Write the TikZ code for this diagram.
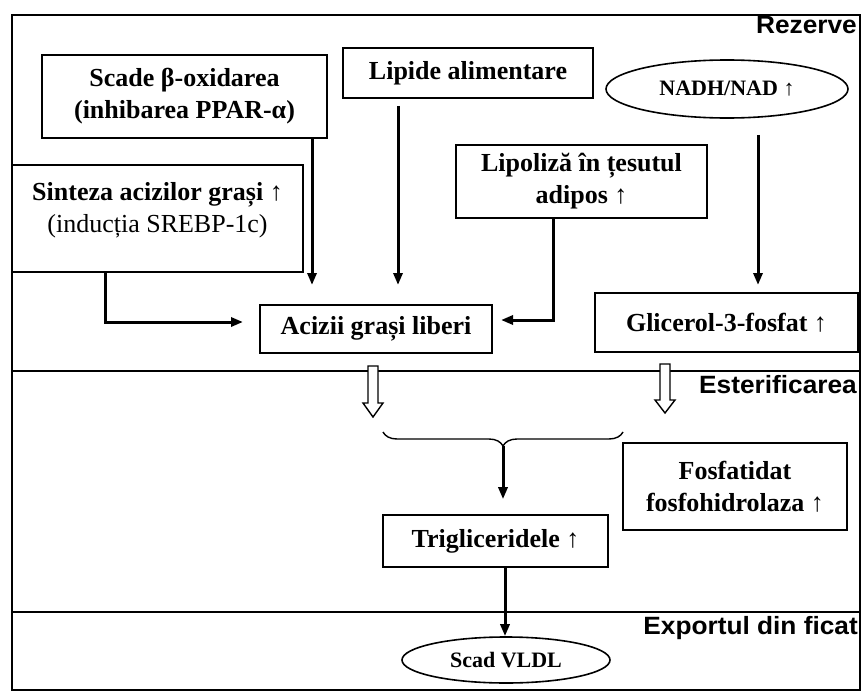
\documentclass[tikz,border=0pt]{standalone}
\usepackage{graphicx}
\usepackage{fontspec}
\setmainfont{Liberation Serif}
\newfontfamily\zonefont{Liberation Sans}
\usetikzlibrary{arrows.meta,shapes.geometric,decorations.pathreplacing,calc}
\newcommand{\zonetext}[1]{\scalebox{1.05}[1]{#1}}
\begin{document}
\begin{tikzpicture}[x=1pt,y=-1pt,
  box/.style={draw,line width=1.6pt,inner sep=0pt,align=center,font=\bfseries\fontsize{26}{32}\selectfont},
  oval/.style={draw,ellipse,line width=1.6pt,inner sep=0pt,font=\bfseries\fontsize{22}{24}\selectfont},
  conn/.style={line width=3pt,-{Triangle[length=12pt,width=9pt]}},
  zone/.style={font=\zonefont\bfseries\fontsize{25}{28}\selectfont,anchor=base east,inner sep=0pt},
  hollow/.style={draw,line width=1.4pt,fill=white,line join=miter},
  sep/.style={line width=1.5pt}]
\useasboundingbox (0,0) rectangle (865,696);
\fill[white] (0,0) rectangle (865,696);
% frame and separators
\draw[sep] (12,15) rectangle (860,690);
\draw[sep] (12,371) -- (860,371);
\draw[sep] (12,612) -- (860,612);
% zone labels
\node[zone] (zr) at (857,34) {\zonetext{Rezerve}};
\node[zone] (ze) at (857,393) {\zonetext{Esterificarea}};
\node[zone] (zx) at (858,634) {\zonetext{Exportul din ficat}};
% nodes
\node[box,minimum width=285pt,minimum height=83pt] (scade) at (184.5,96.5) {Scade β-oxidarea\\(inhibarea PPAR-α)};
\node[box,minimum width=250pt,minimum height=50pt] (lipide) at (468,73) {Lipide alimentare};
\node[oval,minimum width=242pt,minimum height=58pt] (nadh) at (727,89) {NADH/NAD ↑};
\node[box,minimum width=291pt,minimum height=107pt] (sint) at (157.5,218.5) {};
\node[font=\bfseries\fontsize{26}{32}\selectfont,align=center,inner sep=0pt] (sintt) at (157.5,210) {Sinteza acizilor grași ↑\\{\mdseries (inducția SREBP-1c)}};
\node[box,minimum width=251pt,minimum height=73pt] (lipo) at (581.5,181.5) {Lipoliză în țesutul\\adipos ↑};
\node[box,minimum width=232pt,minimum height=48pt] (acizii) at (376,329) {Acizii grași liberi};
\node[box,minimum width=263pt,minimum height=59pt] (glic) at (726.5,322.5) {Glicerol-3-fosfat ↑};
\node[box,minimum width=224pt,minimum height=87pt] (fosf) at (735,486.5) {Fosfatidat\\fosfohidrolaza ↑};
\node[box,minimum width=225pt,minimum height=52pt] (trig) at (495.5,541) {Trigliceridele ↑};
\node[oval,minimum width=208pt,minimum height=46pt] (vldl) at (506,660) {Scad VLDL};
% free ends
\coordinate (e1) at (312,285);
\coordinate (e2) at (398,285);
\coordinate (e3) at (758,285);
\coordinate (e4) at (243,322);
\coordinate (e5) at (501,320);
\coordinate (s4) at (105,0);
\coordinate (s5) at (553,0);
% connectors
\draw[conn] (scade.south -| e1) -- (e1);
\draw[conn,shorten <=7pt] (lipide.south -| e2) -- (e2);
\draw[conn,shorten <=16pt] (nadh.south -| e3) -- (e3);
\draw[conn] (sint.south -| s4) |- (e4);
\draw[conn] (lipo.south -| s5) |- (e5);
% hollow arrows
\draw[hollow] (368,366) -- (378,366) -- (378,403) -- (383,403) -- (373,417) -- (363,403) -- (368,403) -- cycle;
\draw[hollow] (660,364) -- (670,364) -- (670,400) -- (675,400) -- (665,413) -- (655,400) -- (660,400) -- cycle;
% brace
\draw[line width=1.4pt,decorate,decoration={brace,mirror,amplitude=14pt}] (383,432) -- (623,432);
\coordinate (btip) at (503,446);
\draw[conn,shorten >=15pt] (btip) -- (btip |- trig.north);
\coordinate (tv) at (505,0);
\draw[conn] (trig.south -| tv) -- (vldl.north -| tv);
\end{tikzpicture}
\end{document}
